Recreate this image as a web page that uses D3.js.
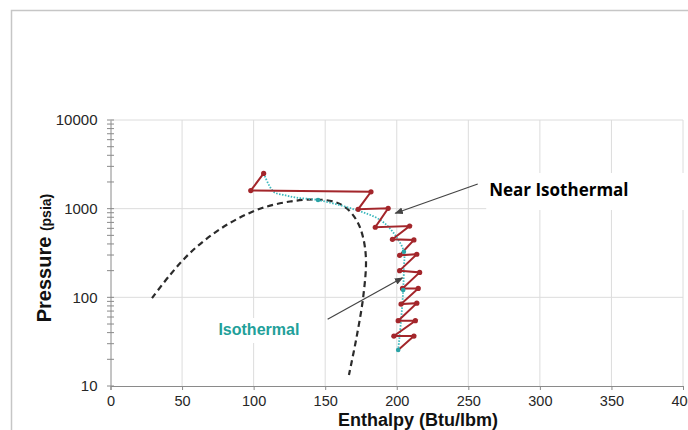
<!DOCTYPE html>
<html>
<head>
<meta charset="utf-8">
<script src="https://cdn.jsdelivr.net/npm/d3@7"></script>
<style>
  body { margin: 0; background: #fff; }
  svg { display: block; }
</style>
</head>
<body>
<div id="chart"></div>
<script>
// Saturation dome (dashed)
const domeH = [29, 41.6, 55.5, 71.6, 88.4, 105.9, 125.4, 142.9, 156.9, 165.2, 172.2, 176.4, 178.5, 176.6, 172, 166.6];
const domeP = [98, 179, 316, 518, 764, 1016, 1205, 1268, 1189, 1004, 726, 479, 264, 102, 36, 13.3];

// Isothermal path (dotted teal)
const isoH = [107, 114, 121, 130, 145, 170, 188.5, 198, 205, 205, 204.5, 203, 201];
const isoP = [2500, 1550, 1430, 1330, 1250, 984, 745, 527, 327, 221, 121, 55, 25.5];
const isoDotH = [145, 205, 204.5, 201];
const isoDotP = [1250, 327, 121, 25.5];

// Near isothermal staged compression (red zigzag)
const stepH = [107, 98, 182, 173, 194, 185, 209, 197, 212, 202, 214, 202, 216, 204, 215, 203, 214, 201, 213, 198, 212, 201];
const stepP = [2500, 1600, 1550, 984, 1009, 617, 637, 451, 444, 298, 306, 200, 191, 126, 126, 84, 86, 54.5, 54.5, 36.6, 36.6, 25.5];

// Axis ticks
const xTicks = [0, 50, 100, 150, 200, 250, 300, 350, 400];
const yTicks = [10, 100, 1000, 10000];

// Annotations: [fromH, fromP, toH, toP]
const nearArrow = [256.6, 1897, 199, 887];
const isoArrow = [151.7, 56.5, 204, 166];
const nearLabel = [264.6, 1390];
const isoLabel = [75.4, 37.6];

const W = 688;
const H = 430;

const svg = d3.select('#chart').append('svg')
  .attr('width', W)
  .attr('height', H);

svg.append('rect')
  .attr('width', W)
  .attr('height', H)
  .attr('fill', '#fff');

// Outer frame, runs off the right and bottom edges
svg.append('rect')
  .attr('x', 11.5)
  .attr('y', 10.5)
  .attr('width', 720)
  .attr('height', 460)
  .attr('fill', 'none')
  .attr('stroke', '#c6c6c6')
  .attr('stroke-width', 1.5);

const x = d3.scaleLinear().domain([0, 400]).range([110.5, 683]);
const y = d3.scaleLog().domain([10, 10000]).range([386, 120]);

const pts = (hs, ps) => hs.map((h, i) => [h, ps[i]]);

// Grid
const grid = svg.append('g').attr('class', 'grid');
grid.selectAll('line.gx')
  .data(xTicks.slice(1))
  .join('line')
  .attr('x1', d => x(d)).attr('x2', d => x(d))
  .attr('y1', y(10000)).attr('y2', y(10))
  .attr('stroke', '#dcdcdc');
grid.selectAll('line.gy')
  .data(yTicks.slice(1))
  .join('line')
  .attr('x1', x(0)).attr('x2', x(400))
  .attr('y1', d => y(d)).attr('y2', d => y(d))
  .attr('stroke', '#dcdcdc');

// White boxes behind the two labels (they hide the grid)
const boxes = svg.append('g');

// X axis
const xAxis = svg.append('g')
  .attr('transform', `translate(0,${y(10)})`)
  .call(d3.axisBottom(x).tickValues(xTicks).tickSize(4).tickPadding(6));
xAxis.select('.domain').attr('stroke', '#8a8a8a');
xAxis.selectAll('.tick line').attr('stroke', '#8a8a8a');
xAxis.selectAll('text')
  .attr('font-family', 'Liberation Sans, Arial, sans-serif')
  .attr('font-size', 14.5)
  .attr('fill', '#262626');

// Y axis (labels only, ticks drawn across the line)
const yAxis = svg.append('g')
  .attr('transform', `translate(${x(0)},0)`)
  .call(d3.axisLeft(y).tickValues(yTicks).tickFormat(d3.format('d')).tickSize(0).tickPadding(13));
yAxis.select('.domain').attr('stroke', '#8a8a8a');
yAxis.selectAll('text')
  .attr('font-family', 'Liberation Sans, Arial, sans-serif')
  .attr('font-size', 15)
  .attr('fill', '#262626');

let minor = [];
[10, 100, 1000].forEach(dec => {
  for (let k = 1; k < 10; k++) minor.push(dec * k);
});
minor.push(10000);
svg.append('g').selectAll('line')
  .data(minor)
  .join('line')
  .attr('x1', x(0) - 3.5).attr('x2', x(0) + 3.5)
  .attr('y1', d => y(d)).attr('y2', d => y(d))
  .attr('stroke', '#8a8a8a');

// Axis titles
svg.append('text')
  .attr('transform', `translate(51,258) rotate(-90)`)
  .attr('text-anchor', 'middle')
  .attr('font-family', 'Liberation Sans, Arial, sans-serif')
  .attr('font-weight', 'bold')
  .attr('fill', '#111')
  .call(t => {
    t.append('tspan').attr('font-size', 20).text('Pressure ');
    t.append('tspan').attr('font-size', 14).text('(psia)');
  });

svg.append('text')
  .attr('x', 418)
  .attr('y', 426)
  .attr('text-anchor', 'middle')
  .attr('font-family', 'Liberation Sans, Arial, sans-serif')
  .attr('font-weight', 'bold')
  .attr('font-size', 18)
  .attr('fill', '#111')
  .text('Enthalpy (Btu/lbm)');

const curved = d3.line()
  .x(d => x(d[0]))
  .y(d => y(d[1]))
  .curve(d3.curveCatmullRom);

// Saturation dome
svg.append('path')
  .attr('d', curved(pts(domeH, domeP)))
  .attr('fill', 'none')
  .attr('stroke', '#2b2b2b')
  .attr('stroke-width', 2.2)
  .attr('stroke-dasharray', '6,4');

// Isothermal
svg.append('path')
  .attr('d', curved(pts(isoH, isoP)))
  .attr('fill', 'none')
  .attr('stroke', '#3bb8bd')
  .attr('stroke-width', 1.8)
  .attr('stroke-dasharray', '1.5,1.5');

// Staged compression
const step = pts(stepH, stepP);
svg.append('path')
  .attr('d', d3.line().x(d => x(d[0])).y(d => y(d[1]))(step))
  .attr('fill', 'none')
  .attr('stroke', '#a3262b')
  .attr('stroke-width', 2);
svg.append('g').selectAll('circle')
  .data(step.slice(0, -1))
  .join('circle')
  .attr('cx', d => x(d[0]))
  .attr('cy', d => y(d[1]))
  .attr('r', 2.6)
  .attr('fill', '#a3262b');

svg.append('g').selectAll('circle')
  .data(pts(isoDotH, isoDotP))
  .join('circle')
  .attr('cx', d => x(d[0]))
  .attr('cy', d => y(d[1]))
  .attr('r', 2.3)
  .attr('fill', '#2aa3a6');

// Arrows
svg.append('defs').append('marker')
  .attr('id', 'head')
  .attr('viewBox', '0 0 10 10')
  .attr('refX', 9)
  .attr('refY', 5)
  .attr('markerWidth', 7)
  .attr('markerHeight', 7)
  .attr('orient', 'auto')
  .append('path')
  .attr('d', 'M0,1 L10,5 L0,9 z')
  .attr('fill', '#444');

[nearArrow, isoArrow].forEach(a => {
  svg.append('line')
    .attr('x1', x(a[0])).attr('y1', y(a[1]))
    .attr('x2', x(a[2])).attr('y2', y(a[3]))
    .attr('stroke', '#444')
    .attr('stroke-width', 1.2)
    .attr('marker-end', 'url(#head)');
});

// Labels
const nearText = svg.append('text')
  .attr('x', x(nearLabel[0]))
  .attr('y', y(nearLabel[1]))
  .attr('font-family', 'Open Sans, sans-serif')
  .attr('font-weight', 'bold')
  .attr('font-size', 17)
  .attr('fill', '#000')
  .text('Near Isothermal');

const isoText = svg.append('text')
  .attr('x', x(isoLabel[0]))
  .attr('y', y(isoLabel[1]))
  .attr('font-family', 'Liberation Sans, Arial, sans-serif')
  .attr('font-weight', 'bold')
  .attr('font-size', 16)
  .attr('fill', '#22a09a')
  .text('Isothermal');

// Box sizes follow the measured label extents
const nb = nearText.node().getBBox();
boxes.append('rect')
  .attr('x', nb.x - 3).attr('y', nb.y - 5)
  .attr('width', W - nb.x + 3).attr('height', nb.height + 14)
  .attr('fill', '#fff');
const ib = isoText.node().getBBox();
boxes.append('rect')
  .attr('x', ib.x - 8).attr('y', ib.y - 3)
  .attr('width', ib.width + 16).attr('height', ib.height + 8)
  .attr('fill', '#fff');
</script>
</body>
</html>
